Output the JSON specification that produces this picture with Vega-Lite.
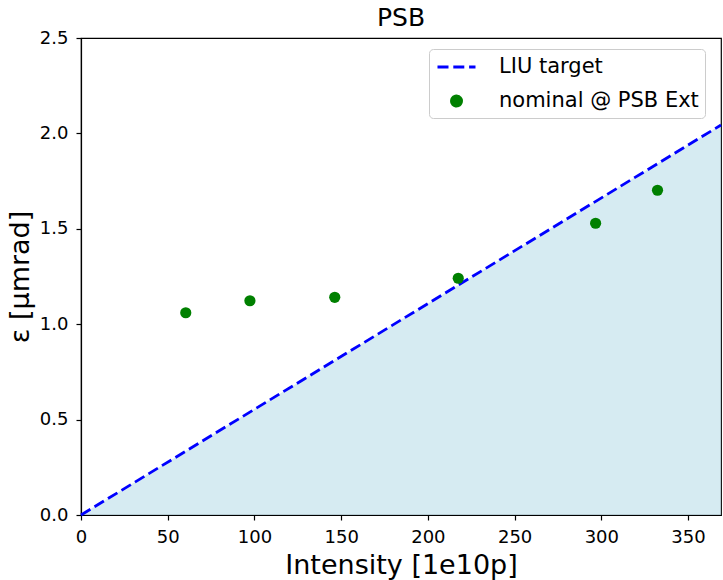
{
  "$schema": "https://vega.github.io/schema/vega-lite/v6.json",
  "width": 640,
  "height": 477,
  "autosize": "none",
  "padding": {"left": 81, "top": 38, "right": 2, "bottom": 65},
  "background": "white",
  "config": {
    "font": "DejaVu Sans",
    "view": {"stroke": "black", "strokeWidth": 1.2},
    "axis": {
      "grid": false,
      "domainColor": "black",
      "domainWidth": 1.2,
      "tickColor": "black",
      "tickWidth": 1.2,
      "tickSize": 5,
      "labelFontSize": 18,
      "labelColor": "black",
      "labelPadding": 8,
      "labelFlush": false,
      "labelOverlap": false,
      "titleFontSize": 27,
      "titleFontWeight": "normal",
      "titleColor": "black"
    }
  },
  "title": {
    "text": "PSB",
    "fontSize": 25,
    "fontWeight": "normal",
    "color": "black",
    "anchor": "middle",
    "frame": "group",
    "baseline": "alphabetic",
    "offset": 10,
    "dy": 32
  },
  "datasets": {
    "target": [
      {"intensity": 0, "emittance": 0, "series": "LIU target"},
      {"intensity": 369, "emittance": 2.044, "series": "LIU target"}
    ],
    "nominal": [
      {"intensity": 60.4, "emittance": 1.06, "series": "nominal @ PSB Ext"},
      {"intensity": 97.4, "emittance": 1.123, "series": "nominal @ PSB Ext"},
      {"intensity": 146.3, "emittance": 1.141, "series": "nominal @ PSB Ext"},
      {"intensity": 217.5, "emittance": 1.241, "series": "nominal @ PSB Ext"},
      {"intensity": 296.7, "emittance": 1.529, "series": "nominal @ PSB Ext"},
      {"intensity": 332.4, "emittance": 1.702, "series": "nominal @ PSB Ext"}
    ]
  },
  "layer": [
    {
      "data": {"name": "target"},
      "mark": {"type": "area", "color": "lightblue", "opacity": 0.5},
      "encoding": {
        "x": {
          "field": "intensity", "type": "quantitative",
          "scale": {"domain": [0, 369], "nice": false},
          "axis": {
            "title": "Intensity [1e10p]",
            "values": [0, 50, 100, 150, 200, 250, 300, 350],
            "titleBaseline": "alphabetic",
            "titleY": 58
          }
        },
        "y": {
          "field": "emittance", "type": "quantitative",
          "scale": {"domain": [0, 2.5], "nice": false},
          "axis": {
            "title": "ε [μmrad]",
            "values": [0, 0.5, 1, 1.5, 2, 2.5],
            "format": ".1f",
            "titleBaseline": "alphabetic",
            "titleX": -53,
            "titleY": 238.5
          }
        }
      }
    },
    {
      "data": {"name": "target"},
      "mark": {"type": "line", "strokeDash": [11, 4.8], "strokeWidth": 2.8},
      "encoding": {
        "x": {"field": "intensity", "type": "quantitative"},
        "y": {"field": "emittance", "type": "quantitative"},
        "color": {
          "field": "series", "type": "nominal",
          "scale": {"domain": ["LIU target", "nominal @ PSB Ext"], "range": ["#0000ff", "#008000"]},
          "legend": {
            "orient": "none",
            "legendX": 348,
            "legendY": 11,
            "title": null,
            "labelFontSize": 21,
            "labelColor": "black",
            "labelLimit": 400,
            "symbolSize": 441,
            "symbolStrokeWidth": 2,
            "labelOffset": 40,
            "rowPadding": 12,
            "padding": 6,
            "fillColor": "white",
            "strokeColor": "#cccccc",
            "cornerRadius": 4,
            "encode": {
              "symbols": {
                "update": {
                  "shape": {"signal": "datum.value === 'LIU target' ? 'M-0.905,0L2.714,0' : 'M1.385,0A0.48,0.48,0,1,1,0.425,0A0.48,0.48,0,1,1,1.385,0Z'"},
                  "fill": {"signal": "datum.value === 'LIU target' ? 'transparent' : '#008000'"},
                  "stroke": {"signal": "datum.value === 'LIU target' ? '#0000ff' : 'transparent'"},
                  "strokeDash": {"signal": "datum.value === 'LIU target' ? [11, 4.8] : [1, 0]"},
                  "strokeWidth": {"value": 2.8},
                  "opacity": {"value": 1}
                }
              }
            }
          }
        }
      }
    },
    {
      "data": {"name": "nominal"},
      "mark": {"type": "point", "filled": true, "size": 125, "opacity": 1},
      "encoding": {
        "x": {"field": "intensity", "type": "quantitative"},
        "y": {"field": "emittance", "type": "quantitative"},
        "color": {"field": "series", "type": "nominal"}
      }
    }
  ]
}
